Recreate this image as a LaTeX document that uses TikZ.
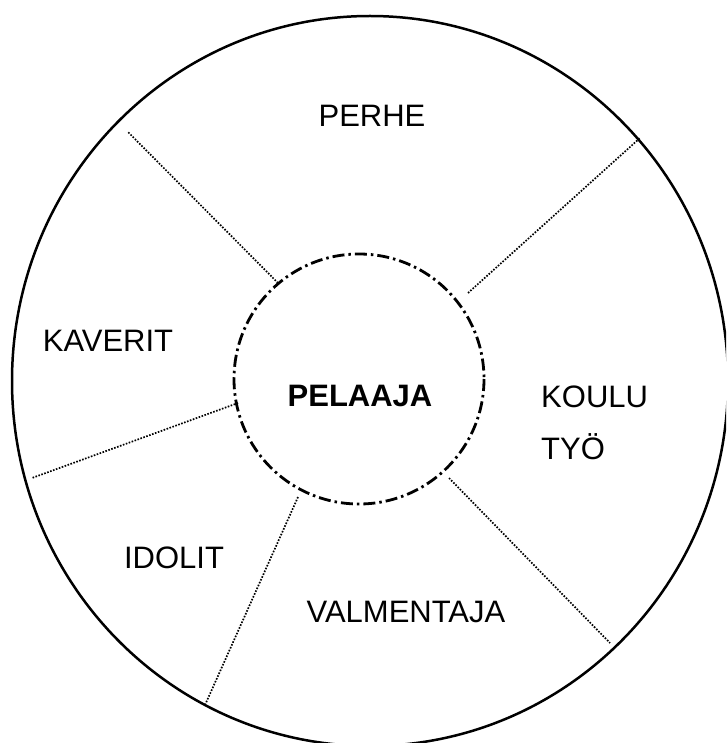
\documentclass[tikz,border=0pt]{standalone}
\usepackage{fontspec}
\setmainfont{Liberation Sans}

\begin{document}
\begin{tikzpicture}[x=1pt,y=-1pt,
    sektori/.style={font=\fontsize{31}{37}\selectfont,inner sep=0pt,anchor=base},
    raja/.style={line width=1.7pt,dash pattern=on 1.6pt off 1.5pt},
    ydin/.style={line width=2.8pt,dash pattern=on 12pt off 4pt on 2.5pt off 4pt}]
	\useasboundingbox (0,0) rectangle (726,743);
	\clip (0,0) rectangle (726,743);
	\draw[line width=2.5pt] (370,381) ellipse [x radius=358, y radius=365];
	\draw[ydin] (359,379) circle [radius=125];
	% rajat sisaympyrasta ulos
	\coordinate (s-perhe-kaverit) at (278,283);  \coordinate (u-perhe-kaverit) at (128,132);
	\coordinate (s-perhe-koulu) at (468,293);    \coordinate (u-perhe-koulu) at (640,138);
	\coordinate (s-kaverit-idolit) at (238,403); \coordinate (u-kaverit-idolit) at (32,478);
	\coordinate (s-idolit-valm) at (298,497);    \coordinate (u-idolit-valm) at (205,705);
	\coordinate (s-valm-koulu) at (449,478);     \coordinate (u-valm-koulu) at (610,643);
	\foreach \r in {perhe-kaverit,perhe-koulu,kaverit-idolit,idolit-valm,valm-koulu}
		\draw[raja] (s-\r) -- (u-\r);
	\node[sektori] (pelaaja) at (360,406) {\bfseries PELAAJA};
	\node[sektori] (perhe) at (372,127) {PERHE};
	\node[sektori] (kaverit) at (108,351) {KAVERIT};
	\node[sektori,anchor=base west] (koulu) at (541,407) {KOULU};
	\node[sektori,anchor=base west] (tyo) at (541,459) {TYÖ};
	\node[sektori] (idolit) at (174,568) {IDOLIT};
	\node[sektori] (valmentaja) at (406,622) {VALMENTAJA};
\end{tikzpicture}
\end{document}
